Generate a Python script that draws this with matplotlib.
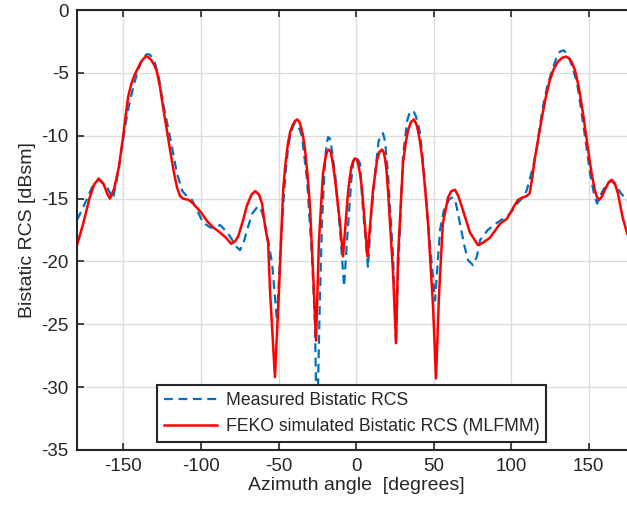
import numpy as np
import matplotlib
matplotlib.use("Agg")
import matplotlib.pyplot as plt

plt.rcParams["font.family"] = ["Liberation Sans", "DejaVu Sans"]
plt.rcParams["axes.unicode_minus"] = False

# 实测双站 RCS（虚线）
meas_x = [-180, -176, -170.3, -166, -160.6, -156.8, -153.5, -150.3, -148, -145.8,
          -143, -140.6, -138.5, -136.5, -134.8, -133, -131.5, -129.7, -127, -124.5,
          -122, -120, -117.5, -115.5, -112, -110, -105.8, -102.3, -98.7, -94,
          -91, -87.7, -84.5, -81.3, -77.5, -74.8, -72.5, -70.3, -67, -63.2,
          -60.8, -58.7, -54.2, -51, -49, -47, -45.5, -43.9, -42.5, -40.5,
          -39.4, -38, -36, -34.8, -31.6, -28.4, -26.5, -25.2, -23.5, -22,
          -20, -19, -18, -17, -16, -13.5, -10.3, -7.7, -5.8, -3,
          -1.8, -0.6, 0.8, 2.6, 3.9, 7.7, 10, 12.3, 14.5, 16,
          17.4, 18.3, 19, 20.6, 23.9, 25.8, 27.1, 30.3, 33, 34.5,
          36, 37.3, 38.5, 40, 41.3, 43, 44.8, 46.5, 51, 54.2,
          56.5, 58.7, 60.5, 62.6, 64.5, 67.1, 70, 72.3, 75.5, 78,
          80, 85, 90, 95, 99.4, 104, 107.7, 110, 112, 114.5,
          116.8, 118.5, 120.6, 123.5, 126.5, 129, 131.6, 134, 136.8, 139.5,
          142.6, 144.5, 146.5, 148.8, 151, 153.5, 155.5, 158.7, 162, 165,
          168, 171, 175, 180]
meas_y = [-16.7, -15.7, -14.1, -13.5, -14.1, -15.0, -13.0, -10.3, -8.6, -7.2,
          -5.8, -4.8, -4.1, -3.7, -3.5, -3.55, -3.8, -4.2, -5.5, -7.4,
          -8.9, -10.1, -11.7, -13.0, -14.4, -14.7, -15.1, -16.0, -16.9, -17.3,
          -17.3, -17.1, -17.5, -18.0, -18.8, -19.1, -18.5, -17.5, -16.2, -15.6,
          -16.0, -17.0, -20.1, -24.7, -19.6, -15.6, -13.0, -11.1, -10.0, -9.2,
          -9.0, -9.1, -9.6, -10.1, -13.5, -19.6, -24.9, -34.0, -24.0, -17.0,
          -12.0, -10.7, -10.1, -10.2, -10.8, -13.0, -17.5, -22.0, -18.3, -13.5,
          -12.1, -11.7, -11.8, -12.2, -14.9, -20.5, -16.0, -13.0, -10.5, -9.9,
          -9.8, -10.2, -10.8, -13.0, -19.6, -26.5, -20.9, -11.7, -8.8, -8.2,
          -8.0, -8.1, -8.4, -9.0, -9.8, -11.8, -14.3, -17.0, -23.1, -17.5,
          -16.0, -15.4, -15.0, -14.9, -15.4, -17.0, -18.8, -19.9, -20.3, -19.6,
          -18.3, -17.5, -17.0, -16.6, -16.2, -15.4, -14.9, -14.4, -13.5, -12.3,
          -10.9, -9.3, -7.7, -6.0, -4.8, -3.9, -3.3, -3.2, -3.6, -4.5,
          -5.8, -7.3, -9.0, -11.0, -13.0, -14.6, -15.4, -14.5, -13.8, -13.6,
          -14.0, -14.6, -15.1, -16.5]

# FEKO 仿真 (MLFMM)
feko_x = [-180, -176, -172, -169, -166, -163, -160.5, -158.7, -156, -153,
          -150.5, -149, -147, -145, -143, -141, -139, -137, -135.5, -134,
          -132, -130, -128.4, -126.5, -124.5, -122, -120, -117.5, -115.5, -113.5,
          -111.6, -108, -105, -100, -96, -92, -87.7, -84, -80.5, -78,
          -76, -73, -70.5, -67.5, -65, -62.5, -60.6, -58.7, -56.7, -55.5,
          -52.3, -49.7, -47, -45.5, -43.9, -42.5, -41, -39.5, -38, -36.5,
          -35.5, -34.2, -32.9, -31.3, -29.7, -27.7, -25.8, -23.9, -21.3, -19.5,
          -18.5, -17.4, -16.3, -15.5, -14.5, -13.5, -10.3, -8.4, -5.2, -4,
          -3, -1.8, -0.6, 0.5, 1.5, 2.7, 3.9, 7.4, 11, 13.5,
          15, 16.8, 17.8, 18.7, 19.7, 20.6, 23.9, 25.8, 27.1, 30.3,
          32, 33.5, 35.5, 37.4, 39, 40, 41.3, 42.6, 44.5, 46.5,
          49.7, 51.6, 53.5, 56, 59.4, 61.5, 63.9, 66, 68.4, 73.5,
          78.7, 82, 86.5, 92.9, 97.4, 102, 104.5, 107.7, 110, 112,
          113.5, 115.5, 118, 120, 122.5, 125, 127.5, 130.3, 133, 135.5,
          137.5, 139, 141.3, 143.5, 145.8, 147.8, 149.7, 152, 154, 155.5,
          157, 158.8, 160.6, 163, 165, 167, 169, 172, 175, 180]
feko_y = [-18.7, -17.0, -15.0, -13.9, -13.4, -13.8, -14.6, -15.0, -14.2, -12.5,
          -10.3, -8.8, -6.9, -5.9, -5.2, -4.7, -4.2, -3.85, -3.7, -3.75,
          -4.0, -4.4, -4.9, -6.1, -7.7, -9.6, -11.1, -12.9, -14.1, -14.8,
          -15.0, -15.1, -15.4, -16.1, -16.8, -17.3, -17.7, -18.1, -18.6, -18.4,
          -18.0, -16.8, -15.6, -14.7, -14.4, -14.7, -15.4, -17.2, -18.5, -22.3,
          -29.2, -22.3, -14.3, -12.2, -10.6, -9.7, -9.2, -8.85, -8.7, -8.9,
          -9.3, -10.0, -11.1, -13.1, -15.6, -20.9, -26.3, -18.3, -13.0, -11.6,
          -11.2, -11.1, -11.3, -11.8, -12.6, -13.5, -17.0, -19.6, -14.6, -13.3,
          -12.5, -12.0, -11.8, -11.9, -12.3, -13.1, -14.3, -19.6, -14.3, -12.0,
          -11.3, -11.1, -11.3, -11.8, -12.8, -14.3, -20.9, -26.5, -19.6, -12.2,
          -10.6, -9.6, -8.9, -8.7, -9.1, -9.6, -10.5, -11.7, -14.1, -17.0,
          -23.6, -29.3, -22.8, -17.0, -14.9, -14.4, -14.3, -14.8, -15.7, -17.7,
          -18.7, -18.5, -18.1, -17.0, -16.6, -15.6, -15.1, -14.9, -14.8, -14.6,
          -13.5, -11.7, -9.9, -8.5, -6.9, -5.6, -4.7, -4.1, -3.8, -3.7,
          -3.85, -4.1, -4.8, -6.0, -7.7, -9.4, -11.1, -13.0, -14.3, -14.9,
          -15.1, -14.8, -14.3, -13.7, -13.5, -13.8, -14.6, -16.5, -17.8, -19.0]

x_ticks = [-150, -100, -50, 0, 50, 100, 150]
y_ticks = [0, -5, -10, -15, -20, -25, -30, -35]

txt = "#262626"
fig = plt.figure(figsize=(6.27, 5.08), dpi=100)
# 右侧坐标轴超出画布（原图被裁切）
ax = fig.add_axes([0.1228, 0.1142, 0.890, 0.866])

ax.plot(meas_x, meas_y, color="#0072BD", lw=1.6, ls=(0, (4, 2.5)),
        label="Measured Bistatic RCS")
ax.plot(feko_x, feko_y, color="red", lw=1.8, solid_joinstyle="round",
        label="FEKO simulated Bistatic RCS (MLFMM)")

ax.set_xlim(-180, 180)
ax.set_ylim(-35, 0)
ax.set_xticks(x_ticks)
ax.set_yticks(y_ticks)
ax.grid(True, color="#dcdcdc", lw=1.0)
ax.set_axisbelow(True)
ax.tick_params(direction="in", length=5, width=1.2, labelsize=13.5,
               colors=txt, top=True, right=True, pad=6)
for s in ax.spines.values():
    s.set_color(txt)
    s.set_linewidth(1.5)

ax.set_xlabel("Azimuth angle  [degrees]", fontsize=14, color=txt, labelpad=1)
ax.set_ylabel("Bistatic RCS [dBsm]", fontsize=14, color=txt, labelpad=4)

leg = ax.legend(loc="lower left", bbox_to_anchor=(0.143, 0.018), fontsize=12.7,
                fancybox=False, framealpha=1, edgecolor=txt, handlelength=3.0,
                borderpad=0.4, labelspacing=0.5, handletextpad=0.5,
                borderaxespad=0)
leg.get_frame().set_linewidth(1.5)
for t in leg.get_texts():
    t.set_color(txt)

fig.savefig("out.png", dpi=100)
